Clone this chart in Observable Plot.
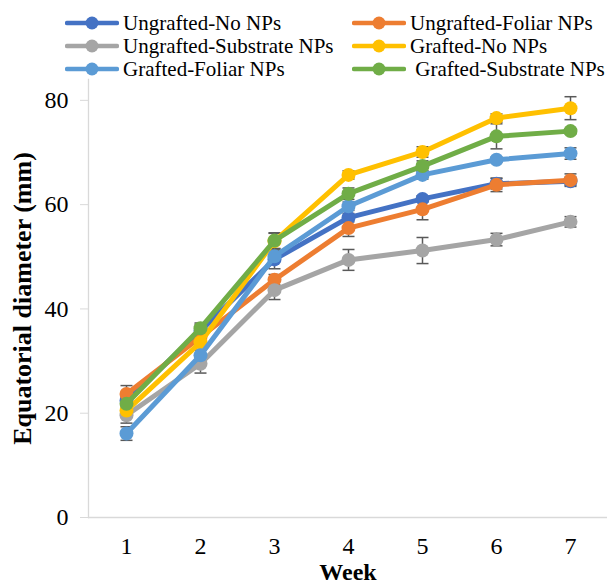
<!DOCTYPE html>
<html>
<head>
<meta charset="utf-8">
<script src="https://cdn.jsdelivr.net/npm/d3@7"></script>
<script src="https://cdn.jsdelivr.net/npm/@observablehq/plot@0.6"></script>
<style>
  html, body { margin: 0; padding: 0; background: #fff; width: 607px; height: 584px; overflow: hidden; }
  body { font-family: "Liberation Serif", "Times New Roman", serif; }
  #legend { position: relative; height: 78px; width: 607px; }
  .item { position: absolute; display: flex; align-items: center; font-size: 21px; color: #000; white-space: pre; line-height: 1; }
  .item svg { margin-right: 4px; }
  #chart svg { display: block; }
</style>
</head>
<body>
<div id="legend"></div>
<div id="chart"></div>
<script>
const weeks = [1, 2, 3, 4, 5, 6, 7];
const seriesNames = ["Ungrafted-No NPs", "Ungrafted-Foliar NPs", "Ungrafted-Substrate NPs", "Grafted-No NPs", "Grafted-Foliar NPs", "Grafted-Substrate NPs"];
const legendLabels = ["Ungrafted-No NPs", "Ungrafted-Foliar NPs", "Ungrafted-Substrate NPs", "Grafted-No NPs", "Grafted-Foliar NPs", " Grafted-Substrate NPs"];
const seriesColors = ["#4472C4", "#ED7D31", "#A5A5A5", "#FFC000", "#5B9BD5", "#70AD47"];

const ungraftedNo        = [22.4, 35.8, 49.5, 57.5, 61.1, 64.0, 64.5];
const ungraftedFoliar    = [23.7, 34.6, 45.6, 55.5, 59.1, 63.8, 64.7];
const ungraftedSubstrate = [19.6, 29.5, 43.6, 49.4, 51.2, 53.3, 56.7];
const graftedNo          = [20.5, 33.6, 53.0, 65.7, 70.1, 76.6, 78.5];
const graftedFoliar      = [16.1, 31.1, 50.1, 59.7, 65.7, 68.6, 69.8];
const graftedSubstrate   = [21.8, 36.3, 53.1, 62.1, 67.4, 73.1, 74.1];

const errUngraftedNo        = [1.0, 1.2, 1.8, 0.8, 0.6, 1.0, 0.8];
const errUngraftedFoliar    = [1.6, 1.0, 1.0, 1.6, 2.0, 1.3, 1.2];
const errUngraftedSubstrate = [1.5, 1.8, 1.8, 2.0, 2.5, 1.2, 1.0];
const errGraftedNo          = [1.0, 1.0, 1.5, 0.8, 1.0, 0.8, 2.2];
const errGraftedFoliar      = [1.3, 1.0, 1.0, 0.8, 0.8, 0.5, 1.1];
const errGraftedSubstrate   = [1.2, 1.0, 1.5, 1.1, 1.0, 2.4, 0.5];

const yTicks = [0, 20, 40, 60, 80];

const values = [ungraftedNo, ungraftedFoliar, ungraftedSubstrate, graftedNo, graftedFoliar, graftedSubstrate];
const errors = [errUngraftedNo, errUngraftedFoliar, errUngraftedSubstrate, errGraftedNo, errGraftedFoliar, errGraftedSubstrate];

const seriesData = seriesNames.map((name, s) =>
  weeks.map((w, i) => ({series: name, week: w, value: values[s][i], err: errors[s][i]}))
);

// Legend (HTML)
const legend = document.getElementById("legend");
const pos = [[65, 23], [352, 23], [65, 46], [352, 46], [65, 69], [352, 69]];
legendLabels.forEach((lab, i) => {
  const div = document.createElement("div");
  div.className = "item";
  div.style.left = pos[i][0] + "px";
  div.style.top = (pos[i][1] - 11) + "px";
  div.style.height = "22px";
  div.innerHTML = `<svg width="54" height="16"><line x1="2" y1="8" x2="52" y2="8" stroke="${seriesColors[i]}" stroke-width="4.5" stroke-linecap="round"/><circle cx="27" cy="8" r="6.5" fill="${seriesColors[i]}"/></svg><span>${lab}</span>`;
  legend.appendChild(div);
});

// horizontal cap symbol for error bars
const capSymbol = {
  draw(ctx, size) {
    const w = Math.sqrt(size / Math.PI);
    ctx.moveTo(-w, 0);
    ctx.lineTo(w, 0);
  }
};

const errMarks = [];
const lineMarks = [];
seriesData.forEach((data, s) => {
  errMarks.push(
    Plot.ruleX(data, {x: "week", y1: d => d.value - d.err, y2: d => d.value + d.err, stroke: "#595959", strokeWidth: 1.5}),
    Plot.dot(data, {x: "week", y: d => d.value + d.err, symbol: capSymbol, r: 6, stroke: "#595959", strokeWidth: 1.5, fill: "none"}),
    Plot.dot(data, {x: "week", y: d => d.value - d.err, symbol: capSymbol, r: 6, stroke: "#595959", strokeWidth: 1.5, fill: "none"})
  );
  lineMarks.push(
    Plot.line(data, {x: "week", y: "value", stroke: seriesColors[s], strokeWidth: 5, strokeLinejoin: "round"}),
    Plot.dot(data, {x: "week", y: "value", r: 7, fill: seriesColors[s], stroke: "none"})
  );
});

const chart = Plot.plot({
  width: 607,
  height: 506,
  marginTop: 1,
  marginBottom: 67,
  marginLeft: 88,
  marginRight: 0,
  style: {fontFamily: "'Liberation Serif', 'Times New Roman', serif", fontSize: "24px", background: "#fff", color: "#000", overflow: "visible"},
  x: {type: "point", domain: weeks, padding: 0.5},
  y: {domain: [0, 84]},
  marks: [
    Plot.frame({anchor: "left", stroke: "#d9d9d9", strokeWidth: 1.3}),
    Plot.ruleY([0], {stroke: "#d9d9d9", strokeWidth: 1.3}),
    Plot.axisY(yTicks, {tickSize: 8, tickPadding: 12, stroke: "#d9d9d9", fill: "#000", fontSize: 24, label: null}),
    Plot.axisX(weeks, {tickSize: 0, tickPadding: 19, fill: "#000", fontSize: 24, label: null}),
    Plot.text(["Week"], {frameAnchor: "bottom", dy: 55, lineAnchor: "middle", fontSize: 24, fontWeight: "bold", fill: "#000"}),
    Plot.text(["Equatorial diameter (mm)"], {frameAnchor: "left", dx: -66, rotate: -90, textAnchor: "middle", lineAnchor: "middle", fontSize: 26, fontWeight: "bold", fill: "#000"}),
    ...errMarks,
    ...lineMarks
  ]
});
document.getElementById("chart").appendChild(chart);
</script>
</body>
</html>
